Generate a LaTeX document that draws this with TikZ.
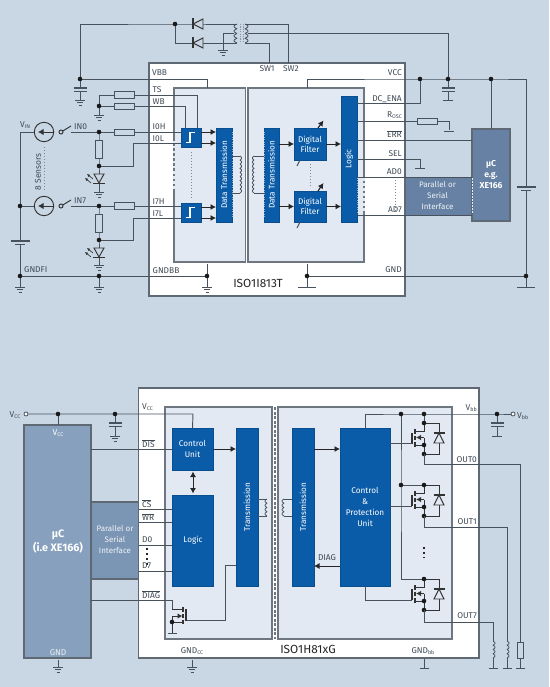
\documentclass[tikz,border=0pt]{standalone}
\usepackage{fontspec}
\setmainfont{Fira Sans}
\usetikzlibrary{arrows.meta}
\definecolor{bgc}{HTML}{C9D7E4}
\definecolor{chipb}{HTML}{5E6974}
\definecolor{innerc}{HTML}{E2E9F3}
\definecolor{innerb}{HTML}{6E7780}
\definecolor{blk}{HTML}{0B5CA8}
\definecolor{wirec}{HTML}{47525D}
\definecolor{txtc}{HTML}{3F4A55}
\definecolor{ucA}{HTML}{6681A3}
\definecolor{ucB}{HTML}{86A0BE}
\definecolor{parB}{HTML}{7B95B5}
\tikzset{
  wire/.style={draw=wirec,line width=0.95pt},
  sym/.style={draw=black!80,line width=0.95pt},
  flow/.style={draw=black!85,line width=0.95pt,-{Latex[length=5.5pt,width=6pt]}},
  flowb/.style={draw=black!85,line width=0.95pt,{Latex[length=5.5pt,width=6pt]}-{Latex[length=5.5pt,width=6pt]}},
  blockn/.style={fill=blk,draw=blk!85!black,line width=0.5pt,inner sep=0pt,outer sep=0pt,text=white,align=center,font=\fontsize{8.2}{11}\selectfont},
  lab/.style={inner sep=0pt,text=txtc,anchor=west,font=\fontsize{8.4}{10}\selectfont},
  labr/.style={lab,anchor=east},
  labc/.style={lab,anchor=center},
  wtxt/.style={inner sep=0pt,text=white,font=\fontsize{8.2}{11}\selectfont,align=center},
  ptxt/.style={inner sep=0pt,text=white!90!ucA,font=\fontsize{8}{11}\selectfont,align=center},
  ptitle/.style={inner sep=0pt,text=black!85,font=\fontsize{11.8}{13}\selectfont},
  dot/.style={circle,fill=black!90,inner sep=0pt,minimum size=4.6pt},
  ocirc/.style={circle,draw=wirec,fill=white,line width=0.8pt,inner sep=0pt,minimum size=4pt},
  chipn/.style={fill=white,draw=chipb,line width=1.2pt,inner sep=0pt,outer sep=0pt},
  innern/.style={fill=innerc,draw=innerb,line width=1.2pt,inner sep=0pt,outer sep=0pt},
  dotcol/.style={draw=wirec!70,line width=1pt,dash pattern=on 1pt off 2pt},
  bolddots/.style={draw=black!85,line width=1.7pt,dash pattern=on 1.7pt off 3.3pt},
}
\newcommand{\rectn}[7][]{\node[#2,#1,minimum width={(#6-#4)*1pt},minimum height={(#7-#5)*1pt}] (#3) at ({(#4+#6)/2},{(#5+#7)/2}) {};}
\newcommand{\earthg}[2]{\draw[wire,shift={(#1,#2)}] (-5,0)--(5,0) (-3.2,2.8)--(3.2,2.8) (-1.5,5.2)--(1.5,5.2);}
\newcommand{\tbar}[3]{\draw[wire,shift={(#1,#2)}] (-#3,0)--(#3,0);}
\newcommand{\resH}[3][bgc]{\draw[wire,fill=#1,shift={(#2,#3)}] (-10,-3.3) rectangle (10,3.3);}
\newcommand{\resV}[3][9]{\draw[wire,fill=bgc,shift={(#2,#3)}] (-3.3,-#1) rectangle (3.3,#1);}
\newcommand{\capV}[3][6.5]{\draw[wire,line width=1.1pt,shift={(#2,#3)}] (-#1,0)--(#1,0) (-#1,3.5)--(#1,3.5);}
\newcommand{\batt}[2]{\draw[wire,line width=1.1pt,shift={(#1,#2)}] (-9.5,0)--(9.5,0) (-5,3.5)--(5,3.5);}
\newcommand{\sourcecirc}[2]{\begin{scope}[shift={(#1,#2)}]
  \draw[sym,fill=bgc] (0,0) circle (9.7pt);
  \draw[sym,-{Latex[length=5.5pt,width=6.5pt]}] (9.7,0)--(-6,0);
  \draw[sym,fill=bgc] (17,0) circle (2pt);
  \draw[sym] (18.8,-1)--(27,-6);
  \end{scope}}
\newcommand{\diodeL}[2]{\begin{scope}[shift={(#1,#2)}]
  \draw[sym,fill=bgc] (-5,0)--(5,-5)--(5,5)--cycle;
  \draw[sym,line width=1.1pt] (-5,-5.5)--(-5,5.5);
  \end{scope}}
\newcommand{\led}[2]{\begin{scope}[shift={(#1,#2)}]
  \draw[sym,fill=bgc] (-5,0)--(5,0)--(0,9)--cycle;
  \draw[sym,line width=1.1pt] (-6,9.5)--(6,9.5);
  \draw[sym,line width=0.7pt,-{Latex[length=3pt,width=3pt]}] (-6,5)--(-12,0);
  \draw[sym,line width=0.7pt,-{Latex[length=3pt,width=3pt]}] (-8,9)--(-14,4);
  \end{scope}}
\newcommand{\schmitt}[2]{\draw[white,line width=1.2pt,shift={(#1,#2)}] (-5,5)--(-1,5)--(-1,-5)--(4,-5);}
\newcommand{\coil}[5]{\draw[wire,line width=0.8pt] plot[smooth,domain=0:1,samples=70] ({#1+#5*abs(sin(\x*180*#4))},{#2+(#3-#2)*\x});}
\newcommand{\bigfet}[1]{\begin{scope}[shift={(424,#1)}]
  \draw[sym] (0,0)--(0,8)--(-9,8) (-9,22)--(0,22)--(0,31);
  \draw[sym,line width=1.1pt] (-9,6)--(-9,10.5) (-9,12.5)--(-9,16.5) (-9,18.5)--(-9,23.5);
  \draw[sym,line width=1.1pt] (-12,10)--(-12,21);
  \draw[sym] (0,14.5)--(0,22);
  \draw[sym,-{Latex[length=5pt,width=5.5pt]}] (0,14.5)--(-8,14.5);
  \draw[sym] (0,0)--(15,0)--(15,31)--(0,31);
  \draw[sym,fill=innerc] (10,20)--(20,20)--(15,10)--cycle;
  \draw[sym,line width=1.1pt] (9.5,10)--(20.5,10);
  \node[dot] (t#1) at (0,0) {};
  \node[dot] (m#1) at (0,22) {};
  \node[dot] (b#1) at (0,31) {};
  \end{scope}}
\newcommand{\subsc}[1]{\raisebox{-1.2pt}{\fontsize{5.4}{5.4}\selectfont #1}}
\newcommand{\ovl}[1]{$\overline{\mbox{#1}}$}
\begin{document}
\begin{tikzpicture}[x=1pt,y=-1pt]
\useasboundingbox (0,0) rectangle (549,687);
\fill[bgc] (0,0) rectangle (549,687);

%% ============ TOP DIAGRAM ============
\rectn{chipn}{chipT}{149}{63}{405}{296}
\rectn{innern}{inLT}{174}{88}{245.5}{262}
\rectn{innern}{inRT}{248}{88}{364}{262}
\draw[innerc,line width=1.4pt,dash pattern=on 2.5pt off 2.5pt] (174,141)--(174,190);
\draw[innerc,line width=1.4pt,dash pattern=on 2.5pt off 2.5pt] (364,178)--(364,213);
\rectn[draw=none,fill=ucA]{chipn}{parT}{405.5}{177}{472}{215}
\rectn[fill=ucA,draw=chipb]{chipn}{ucT}{472}{129}{510}{221}
\node[ptxt] (parTt) at (437.5,196) {Parallel or\\Serial\\Interface};
\node[wtxt,font=\fontsize{8.6}{11}\selectfont\bfseries] (ucTt) at (491,174.5) {µC\\e.g.\\XE166};

\rectn{blockn}{schA}{181}{128}{201}{147}
\rectn{blockn}{schB}{181}{203}{201}{222}
\schmitt{191}{137.5}
\schmitt{191}{212.5}
\rectn{blockn}{dtL}{216}{128}{232}{222}
\rectn{blockn}{dtR}{264}{128}{279}{222}
\node[wtxt,rotate=90] (dtLt) at (dtL) {Data Transmission};
\node[wtxt,rotate=90] (dtRt) at (dtR) {Data Transmission};
\draw[white,opacity=0.55,line width=0.4pt,dash pattern=on 1pt off 1.4pt] (232,132)--(232,218) (264,132)--(264,218);
\node[blockn,minimum width=32pt,minimum height=32pt] (filA) at (310,144) {Digital\\[-1pt]Filter};
\node[blockn,minimum width=32pt,minimum height=31pt] (filB) at (310,206.5) {Digital\\[-1pt]Filter};
\rectn{blockn}{logT}{341}{96}{357}{222}
\node[wtxt,rotate=90] (logTt) at (349,159) {Logic};
\draw[white,opacity=0.55,line width=0.4pt,dash pattern=on 1pt off 1.4pt] (357,178)--(357,213);
\draw[white!85!ucA,line width=0.6pt,dash pattern=on 1.5pt off 1.5pt] (472,178)--(472,214);

% junctions
\coordinate (jD) at (175,24);
\coordinate (jC) at (80,79);
\coordinate (jW) at (99,106);
\coordinate (j0) at (99,132);
\coordinate (j0b) at (99,166);
\coordinate (j7) at (99,206);
\coordinate (j7b) at (99,240);
\coordinate (jS) at (20,206);
\coordinate (jG1) at (20,276);
\coordinate (jG2) at (99,276);
\coordinate (jG3) at (207,276);
\coordinate (jV1) at (420,79);
\coordinate (jV2) at (448,79);
\coordinate (jV3) at (491,79);
\coordinate (jG4) at (307,276);
\coordinate (jG5) at (526,276);

% supply / transformer
\draw[wire] (jC)--(80,24)--(jD)--(237,24);
\draw[wire] (jD)--(175,43)--(237,43);
\draw[wire] (234,33)--(223,33)--(223,50);
\earthg{223}{50}
\diodeL{198}{24}
\diodeL{198}{43}
\coil{237}{24}{43}{4}{-3}
\coil{245}{24}{43}{4}{3}
\draw[draw=wirec!60,line width=1pt,dash pattern=on 1.2pt off 1.2pt] (240,24)--(240,43) (243,24)--(243,43);
\draw[wire] (245,24)--(288,24)--(288,63);
\draw[wire] (245,43)--(269.5,43)--(269.5,63);
\draw[wire] (248,33)--(448,33)--(jV2);
% VBB
\draw[wire] (jC)--(207,79)--(207,88);
\draw[wire] (jC)--(80,88) (80,91.5)--(80,100);
\capV{80}{88}
\earthg{80}{100}
% TS WB
\draw[wire] (99,106)--(99,95)--(197,95)--(197,128);
\draw[wire] (jW)--(185,106)--(185,128);
\draw[wire] (jW)--(99,115);
\earthg{99}{115}
\resH{124}{95}
\resH{124}{106.5}
% channel 0
\draw[wire] (20,132)--(34,132);
\draw[wire] (20,132)--(jS);
\draw[wire] (71,132)--(181,132);
\draw[wire] (j0)--(j0b)--(99,174);
\draw[wire] (j0b)--(133,166)--(133,143.5)--(181,143.5);
\resH{124}{132.5}
\resV{99}{149}
\led{99}{174}
\draw[wire] (99,183.5)--(99,192);
\earthg{99}{192}
\sourcecirc{44}{132}
% channel 7
\draw[wire] (jS)--(34,206);
\draw[wire] (71,206)--(181,206);
\draw[wire] (j7)--(j7b)--(99,248);
\draw[wire] (j7b)--(133,240)--(133,218)--(181,218);
\resH{124}{206}
\resV{99}{223.5}
\led{99}{248}
\draw[wire] (99,258)--(99,265);
\earthg{99}{265}
\sourcecirc{44}{206}
% GND left
\draw[wire] (jS)--(20,241) (20,244.5)--(jG1)--(jG3);
\batt{20}{241}
\draw[wire] (jG1)--(20,287) (jG2)--(99,287) (207,264)--(207,287);
\earthg{20}{287}
\earthg{99}{287}
\earthg{207}{287}
\draw[dotcol] (44,147)--(44,190);
\draw[dotcol] (191,152)--(191,198);
\draw[dotcol] (310,164)--(310,186);
\draw[dotcol] (395.5,180)--(395.5,211);
% arrows
\draw[flow] (schA.east|-0,132)--(dtL.west|-0,132);
\draw[flow] (schA.east|-0,143)--(dtL.west|-0,143);
\draw[flow] (schB.east|-0,207)--(dtL.west|-0,207);
\draw[flow] (schB.east|-0,218)--(dtL.west|-0,218);
\draw[flow] (dtR.east|-filA)--(filA.west);
\draw[flow] (dtR.east|-filB)--(filB.west);
\draw[flow] (filA.east)--(logT.west|-filA);
\draw[flow] (filB.east)--(logT.west|-filB);
\draw[flow,line width=1.1pt] (318,128)--(323.5,120.5);
\draw[flow,line width=1.1pt] (318,191)--(323.5,183);
\draw[wire,line width=1.1pt] (297,166)--(300,160);
\draw[wire,line width=1.1pt] (297,228)--(300,222);
% coils
\draw[wire] (dtL.east|-0,156)--(240,156);
\draw[wire] (dtL.east|-0,193)--(240,193);
\coil{240}{156}{193}{9}{1.6}
\draw[wire] (dtR.west|-0,156)--(254,156);
\draw[wire] (dtR.west|-0,193)--(254,193);
\coil{254}{156}{193}{9}{-1.6}
% right side
\draw[wire] (307,88)--(307,79)--(jV1)--(jV2)--(jV3)--(526,79)--(526,187) (526,190.5)--(jG5);
\draw[wire] (logT.east|-0,103)--(420,103)--(jV1);
\draw[wire] (logT.east|-0,121.5)--(417,121.5);
\draw[wire] (437,121.5)--(449,121.5)--(449,130.5);
\resH{427}{121.5}
\tbar{449}{131}{5}
\draw[wire] (logT.east|-0,140)--(ucT.west|-0,140);
\draw[wire] (logT.east|-0,159)--(420,159)--(420,168);
\tbar{420}{168}{5}
\draw[wire] (logT.east|-0,177)--(ucT.west|-0,177);
\draw[wire] (logT.east|-0,215)--(ucT.west|-0,215);
\draw[wire] (jV3)--(ucT.north);
\draw[wire] (jV2)--(448,88) (448,91.5)--(448,100);
\capV{448}{88}
\tbar{448}{100}{5}
\batt{526}{187}
\draw[wire] (307,264)--(307,287) (jG4)--(jG5)--(526,287);
\tbar{307}{287}{9}
\tbar{526}{287}{9}
\foreach \n in {jD,jC,jW,j0,j0b,j7,j7b,jS,jG1,jG2,jG3,jV1,jV2,jV3,jG4,jG5}
  \node[dot] (d\n) at (\n) {};

\node[lab] (lVin) at (20,125) {V\subsc{IN}};
\node[lab] (lIN0) at (74,127) {IN0};
\node[lab] (lIN7) at (74,200.5) {IN7};
\node[lab,rotate=90,anchor=center] (l8s) at (38,172) {8 Sensors};
\node[lab] (lGFI) at (24,270) {GNDFI};
\node[lab] (lVBB) at (152,73) {VBB};
\node[lab] (lTS) at (152.5,90) {TS};
\node[lab] (lWB) at (152.5,102) {WB};
\node[lab] (lI0H) at (152.5,127) {I0H};
\node[lab] (lI0L) at (152.5,139) {I0L};
\node[lab] (lI7H) at (152.5,202) {I7H};
\node[lab] (lI7L) at (152.5,214) {I7L};
\node[lab] (lGB) at (152.5,271) {GNDBB};
\node[labc] (lSW1) at (267,69) {SW1};
\node[labc] (lSW2) at (291,69) {SW2};
\node[labr] (lVCC) at (402,73) {VCC};
\node[labr] (lDC) at (402,99) {DC\_ENA};
\node[labr] (lRO) at (402,115.5) {R\subsc{OSC}};
\node[labr] (lERR) at (402,134) {\ovl{ERR}};
\node[labr] (lSEL) at (402,153.5) {SEL};
\node[labr] (lAD0) at (402,172) {AD0};
\node[labr] (lAD7) at (402,210) {AD7};
\node[labr] (lGN) at (402,270) {GND};
\node[ptitle] (lIso1) at (258,283) {ISO1I813T};

%% ============ BOTTOM DIAGRAM ============
\rectn[fill=ucB,draw=chipb]{chipn}{ucB2}{24}{425}{91}{658}
\rectn[fill=parB,draw=chipb]{chipn}{parB2}{91}{502}{138.5}{579}
\rectn{chipn}{chipB}{138.5}{388}{479}{658}
\rectn{innern}{inLB}{165}{407}{272}{639}
\rectn{innern}{inRB}{278}{407}{452}{639}
\draw[innerb,line width=1.1pt,dash pattern=on 3pt off 1.5pt] (275,407)--(275,639);
\rectn{blockn}{ctrl}{172}{428}{213}{470}
\node[wtxt] (ctrlT) at (ctrl) {Control\\Unit};
\rectn{blockn}{logB}{172}{495}{213}{586}
\node[wtxt] (logBt) at (193,540) {Logic};
\rectn{blockn}{trL}{236}{428}{258}{586}
\rectn{blockn}{trR}{292}{428}{314}{586}
\node[wtxt,rotate=90] (trLt) at (247,507) {Transmission};
\node[wtxt,rotate=90] (trRt) at (303,507) {Transmission};
\rectn{blockn}{cpu}{340}{428}{390}{586}
\node[wtxt] (cput) at (365,507) {Control\\\&\\Protection\\Unit};
\node[wtxt,font=\fontsize{10.8}{13.5}\selectfont\bfseries] (ucBt) at (58,541.5) {µC\\(i.e XE166)};
\node[ptxt] (parBt) at (115,540) {Parallel or\\Serial\\Interface};

\coordinate (kA) at (58,414);
\coordinate (kB) at (115,414);
\coordinate (kC) at (401,414);
\coordinate (kD) at (424,414);
\coordinate (kE) at (497,414);
\coordinate (kF) at (401,485);
\coordinate (kG) at (172,622);
\node[ocirc] (oVcc) at (26,414) {};
\node[ocirc] (oVbb) at (513,414) {};
\draw[wire] (oVcc)--(kA)--(kB)--(193,414)--(ctrl.north);
\draw[wire] (kA)--(ucB2.north-|kA);
\draw[wire] (kB)--(115,423) (115,426.5)--(115,436);
\capV{115}{423}
\earthg{115}{436}
\draw[wire] (91,449)--(ctrl.west|-0,449);
\draw[wire] (138.5,509)--(logB.west|-0,509);
\draw[wire] (138.5,522)--(logB.west|-0,522);
\draw[wire] (138.5,545)--(logB.west|-0,545);
\draw[wire] (138.5,571)--(logB.west|-0,571);
\draw[wire] (91,600)--(172,600)--(172,609)--(183,609);
\draw[flow] (ctrl.east|-0,449)--(trL.west|-0,449);
\draw[flowb] (193,471.5)--(193,493.5);
\draw[flow] (trR.east|-0,449)--(cpu.west|-0,449);
\draw[flow] (cpu.west|-0,566)--(trR.east|-0,566);
\draw[wire] (258,499)--(267,499) (258,516)--(267,516);
\coil{267}{499}{516}{4}{-2}
\draw[wire] (292,499)--(284,499) (292,516)--(284,516);
\coil{284}{499}{516}{4}{-2}
% small fet
\draw[wire] (trL.west|-0,565)--(225,565)--(225,620)--(187,620);
\draw[sym,line width=1.1pt] (183,607)--(183,612) (183,614)--(183,618) (183,620)--(183,624);
\draw[sym,line width=1.1pt] (186,609)--(186,621);
\draw[sym] (172,616)--(kG)--(183,622);
\draw[sym,-{Latex[length=5pt,width=5.5pt]}] (172,616)--(182.5,616);
\draw[sym] (kG)--(172,632.5);
\tbar{172}{633}{4.5}
\draw[sym] (183,609)--(172,609);
% right
\draw[wire] (cpu.north)--(365,414)--(kC)--(kD)--(kE)--(oVbb);
\draw[wire] (kC)--(kF)--(401,579)--(424,579);
\draw[wire] (kF)--(424,485);
\draw[wire] (kD)--(424,423);
\draw[wire] (kE)--(497,423) (497,426.5)--(497,436);
\capV{497}{423}
\tbar{497}{436}{5}
\bigfet{423}
\bigfet{485}
\bigfet{579}
\draw[wire] (cpu.east|-0,443)--(412,443);
\draw[wire] (cpu.east|-0,506)--(412,506);
\draw[wire] (365,586)--(365,600)--(412,600);
\draw[wire] (424,454)--(424,464)--(520.5,464)--(520.5,642);
\draw[wire] (424,516)--(424,527)--(507,527)--(507,641);
\draw[wire] (424,610)--(424,622)--(493,622)--(493,641);
\coil{493}{641}{658}{4}{2}
\coil{507}{641}{658}{4}{2}
\draw[wire] (493,658)--(493,668) (507,658)--(507,668) (520.5,658)--(520.5,668);
\resV[8]{520.5}{650}
\tbar{493}{668}{4.5}
\tbar{507}{668}{4.5}
\tbar{520.5}{668}{4.5}
\draw[wire] (424,659)--(424,668);
\tbar{424}{668}{4.5}
\draw[wire] (192,660)--(192,667);
\earthg{192}{667}
\draw[wire] (58,660)--(58,667);
\earthg{58}{667}
\draw[bolddots] (147,548)--(147,567);
\draw[bolddots] (424,547)--(424,558);
\foreach \n in {kA,kB,kC,kD,kE,kF,kG}
  \node[dot] (d\n) at (\n) {};

\node[labc] (lV1) at (15,415) {V\subsc{CC}};
\node[wtxt,font=\fontsize{8.4}{10}\selectfont] (lV2) at (58,433) {V\subsc{CC}};
\node[wtxt,font=\fontsize{8.4}{10}\selectfont,text=white!85!ucB] (lGu) at (58,653) {GND};
\node[lab] (lV3) at (142,407.5) {V\subsc{CC}};
\node[lab] (lDIS) at (142,444) {\ovl{DIS}};
\node[lab] (lCS) at (142,503.5) {\ovl{CS}};
\node[lab] (lWR) at (142,517) {\ovl{WR}};
\node[lab] (lD0) at (142,540) {D0};
\node[lab] (lD7) at (142,566) {D7};
\node[lab] (lDG) at (142,595) {\ovl{DIAG}};
\node[labc] (lGc) at (192,651) {GND\subsc{CC}};
\node[labc] (lDG2) at (327,557.5) {DIAG};
\node[labr] (lV4) at (477,408) {V\subsc{bb}};
\node[lab] (lV5) at (517,416) {V\subsc{bb}};
\node[labr] (lO0) at (477,460) {OUT0};
\node[labr] (lO1) at (477,522) {OUT1};
\node[labr] (lO7) at (477,616) {OUT7};
\node[labc] (lGb) at (423,651) {GND\subsc{bb}};
\node[ptitle] (lIso2) at (308,649.5) {ISO1H81xG};
\end{tikzpicture}
\end{document}
